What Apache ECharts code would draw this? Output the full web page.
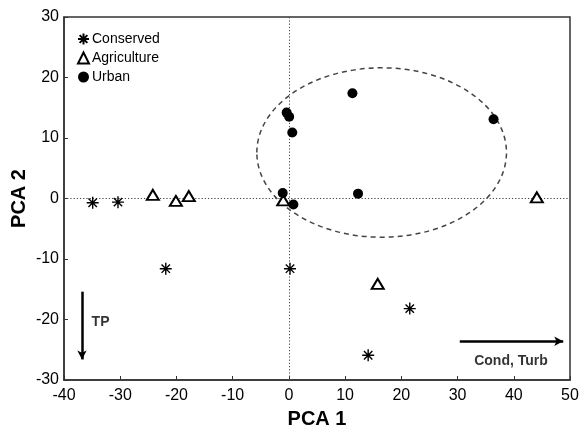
<!DOCTYPE html>
<html>
<head>
<meta charset="utf-8">
<script src="https://cdn.jsdelivr.net/npm/echarts@6/dist/echarts.min.js"></script>
<style>html,body{margin:0;padding:0;background:#fff;}#c{width:580px;height:432px;}</style>
</head>
<body>
<div id="c"></div>
<script>
// ---- data ----
const conservedX = [-34.9, -30.4, -21.9, 0.2, 21.5, 14.1];
const conservedY = [-0.7, -0.6, -11.6, -11.6, -18.2, -25.9];
const agricultureX = [-24.2, -20.1, -17.8, -1.0, 15.8, 44.1];
const agricultureY = [0.6, -0.4, 0.4, -0.3, -14.1, 0.2];
const urbanX = [11.3, 36.4, -0.4, 0.05, 0.6, 12.3, -1.1, 0.8];
const urbanY = [17.4, 13.1, 14.2, 13.5, 10.9, 0.8, 0.9, -1.0];
// ellipse: centre x, centre y, half-width, half-height (data units)
const ellipseSpec = [16.5, 7.6, 22.2, 14.0];
// loading arrows: [start, end]
const arrowTP = [[-36.8, -15.4], [-36.8, -26.6]];
const arrowCond = [[30.4, -23.6], [48.8, -23.6]];
const annotationNames = ['TP', 'Cond, Turb'];
const annotationPos = [[-33.5, -20.4], [39.5, -26.9]];
const xTicks = {min: -40, max: 50, interval: 10};
const yTicks = {min: -30, max: 30, interval: 10};

const zip = (a, b) => a.map((v, i) => [v, b[i]]);
const FONT = "'Liberation Sans', Arial, sans-serif";
const asteriskPath = 'path://M0,10L20,10M10,0L10,20M3,3L17,17M17,3L3,17';

const chart = echarts.init(document.getElementById('c'), null, {renderer: 'canvas'});
chart.setOption({
  animation: false,
  backgroundColor: '#fff',
  textStyle: {fontFamily: FONT, color: '#000'},
  grid: {left: 64, right: 10, top: 17, bottom: 52, outerBoundsMode: 'none', containLabel: false,
         show: true, borderColor: '#333', borderWidth: 1.5, backgroundColor: 'transparent'},
  legend: {
    orient: 'vertical', left: 72, top: 27, itemGap: 5, itemWidth: 11, itemHeight: 11,
    textStyle: {fontSize: 14, fontFamily: FONT, color: '#000', padding: [0, 0, 0, -2]},
    data: ['Conserved', 'Agriculture', 'Urban']
  },
  xAxis: {
    type: 'value', min: xTicks.min, max: xTicks.max, interval: xTicks.interval,
    name: 'PCA 1', nameLocation: 'middle', nameGap: 29, nameMoveOverlap: false,
    nameTextStyle: {fontSize: 20, fontWeight: 'bold', fontFamily: FONT, color: '#000'},
    axisLine: {onZero: false, lineStyle: {color: '#333', width: 1.5}},
    axisTick: {inside: true, length: 4, lineStyle: {color: '#333'}},
    axisLabel: {fontSize: 16, color: '#000', margin: 8, fontFamily: FONT},
    splitLine: {show: false}
  },
  yAxis: {
    type: 'value', min: yTicks.min, max: yTicks.max, interval: yTicks.interval,
    name: 'PCA 2', nameLocation: 'middle', nameGap: 35, nameRotate: 90, nameMoveOverlap: false,
    nameTextStyle: {fontSize: 20, fontWeight: 'bold', fontFamily: FONT, color: '#000'},
    axisLine: {onZero: false, lineStyle: {color: '#333', width: 1.5}},
    axisTick: {inside: true, length: 4, lineStyle: {color: '#333'}},
    axisLabel: {fontSize: 16, color: '#000', margin: 5, fontFamily: FONT},
    splitLine: {show: false}
  },
  series: [
    {
      name: 'refLines', type: 'scatter', data: [], silent: true, z: 1,
      markLine: {
        silent: true, symbol: ['none', 'none'], animation: false,
        label: {show: false},
        lineStyle: {type: [1.2, 2], color: '#444', width: 1},
        data: [{xAxis: 0}, {yAxis: 0}]
      }
    },
    {
      name: 'ellipse', type: 'custom', silent: true, z: 2,
      encode: {x: 0, y: 1},
      data: [ellipseSpec],
      renderItem: function (params, api) {
        const c = api.coord([api.value(0), api.value(1)]);
        const s = api.size([api.value(2), api.value(3)]);
        return {
          type: 'ellipse',
          shape: {cx: c[0], cy: c[1], rx: s[0], ry: s[1]},
          style: {fill: 'none', stroke: '#444', lineWidth: 1.5, lineDash: [5, 4]}
        };
      }
    },
    {
      name: 'arrows', type: 'line', data: [], silent: true, z: 3,
      markLine: {
        silent: true, symbol: ['none', 'arrow'], symbolSize: [7, 9], animation: false,
        label: {show: false},
        itemStyle: {color: '#000'},
        lineStyle: {type: 'solid', color: '#000', width: 2.5, opacity: 1},
        data: [
          [{coord: arrowTP[0]}, {coord: arrowTP[1]}],
          [{coord: arrowCond[0]}, {coord: arrowCond[1]}]
        ]
      }
    },
    {
      name: 'annotations', type: 'scatter', symbolSize: 0, silent: true, z: 3,
      label: {show: true, position: 'inside', formatter: '{b}', fontSize: 14, fontWeight: 'bold', color: '#000', fontFamily: FONT},
      data: annotationNames.map((n, i) => ({name: n, value: annotationPos[i]}))
    },
    {
      name: 'Conserved', type: 'scatter', symbol: asteriskPath, symbolSize: 12, z: 5,
      itemStyle: {color: '#000', borderColor: '#000', borderWidth: 1.4, opacity: 1},
      data: zip(conservedX, conservedY)
    },
    {
      name: 'Agriculture', type: 'scatter', symbol: 'triangle', symbolSize: [12, 10], z: 5,
      itemStyle: {color: '#fff', borderColor: '#000', borderWidth: 2, opacity: 1},
      data: zip(agricultureX, agricultureY)
    },
    {
      name: 'Urban', type: 'scatter', symbol: 'circle', symbolSize: 10, z: 6,
      itemStyle: {color: '#000', opacity: 1},
      data: zip(urbanX, urbanY)
    }
  ]
});
</script>
</body>
</html>
